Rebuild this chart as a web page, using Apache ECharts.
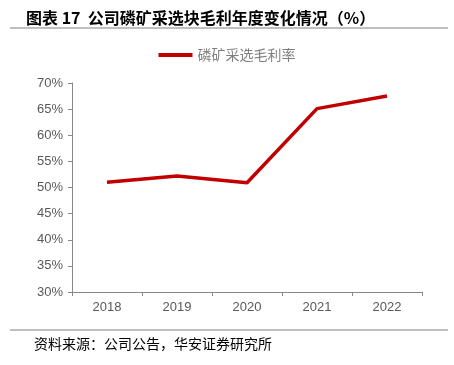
<!DOCTYPE html>
<html>
<head>
<meta charset="utf-8">
<script src="https://cdn.jsdelivr.net/npm/echarts@6/dist/echarts.min.js"></script>
<style>
  html, body { margin: 0; padding: 0; background: #fff; }
  #chart { width: 454px; height: 365px; }
</style>
</head>
<body>
<div id="chart"></div>
<script>
var years = ['2018', '2019', '2020', '2021', '2022'];
var grossMargin = [51.0, 52.2, 50.9, 65.1, 67.5];
var seriesName = '磷矿采选毛利率';

var chart = echarts.init(document.getElementById('chart'), null, { renderer: 'canvas' });

var option = {
    animation: false,
    backgroundColor: '#fff',
    title: {
        text: '图表 17  公司磷矿采选块毛利年度变化情况（%）',
        left: 21,
        top: 5,
        textStyle: {
            fontSize: 16,
            fontWeight: 'bold',
            color: '#000',
            fontFamily: 'Noto Sans CJK SC'
        }
    },
    graphic: [
        { type: 'line', shape: { x1: 10, y1: 28, x2: 448, y2: 28 }, style: { stroke: '#808080', lineWidth: 1 } },
        { type: 'line', shape: { x1: 10, y1: 330, x2: 448, y2: 330 }, style: { stroke: '#808080', lineWidth: 1 } },
        {
            type: 'text', left: 34, top: 337,
            style: { text: '资料来源：公司公告，华安证券研究所', fontSize: 14, fill: '#000', fontFamily: 'Noto Sans CJK SC' }
        }
    ],
    legend: {
        top: 43,
        left: 'center',
        itemWidth: 34,
        itemHeight: 4,
        itemGap: 4,
        icon: 'rect',
        textStyle: { fontSize: 14, color: '#7f7f7f', fontFamily: 'Noto Sans CJK SC' },
        data: [seriesName]
    },
    grid: { left: 72, right: 32, top: 83, bottom: 73 },
    xAxis: {
        type: 'category',
        data: years,
        boundaryGap: true,
        axisLine: { lineStyle: { color: '#888', width: 1 } },
        axisTick: { show: true, length: 4, lineStyle: { color: '#888' } },
        axisLabel: { fontSize: 13, color: '#595959', margin: 9, fontFamily: 'Liberation Sans' }
    },
    yAxis: {
        type: 'value',
        min: 30,
        max: 70,
        interval: 5,
        axisLine: { show: true, lineStyle: { color: '#888', width: 1 } },
        axisTick: { show: true, length: 4, lineStyle: { color: '#888' } },
        splitLine: { show: false },
        axisLabel: {
            fontSize: 13, color: '#595959', margin: 9, fontFamily: 'Liberation Sans',
            formatter: function (v) { return v + '%'; }
        }
    },
    series: [
        {
            name: seriesName,
            type: 'line',
            data: grossMargin,
            symbol: 'none',
            lineStyle: { color: '#C00000', width: 3.5 },
            itemStyle: { color: '#C00000' }
        }
    ]
};

chart.setOption(option);
</script>
</body>
</html>
